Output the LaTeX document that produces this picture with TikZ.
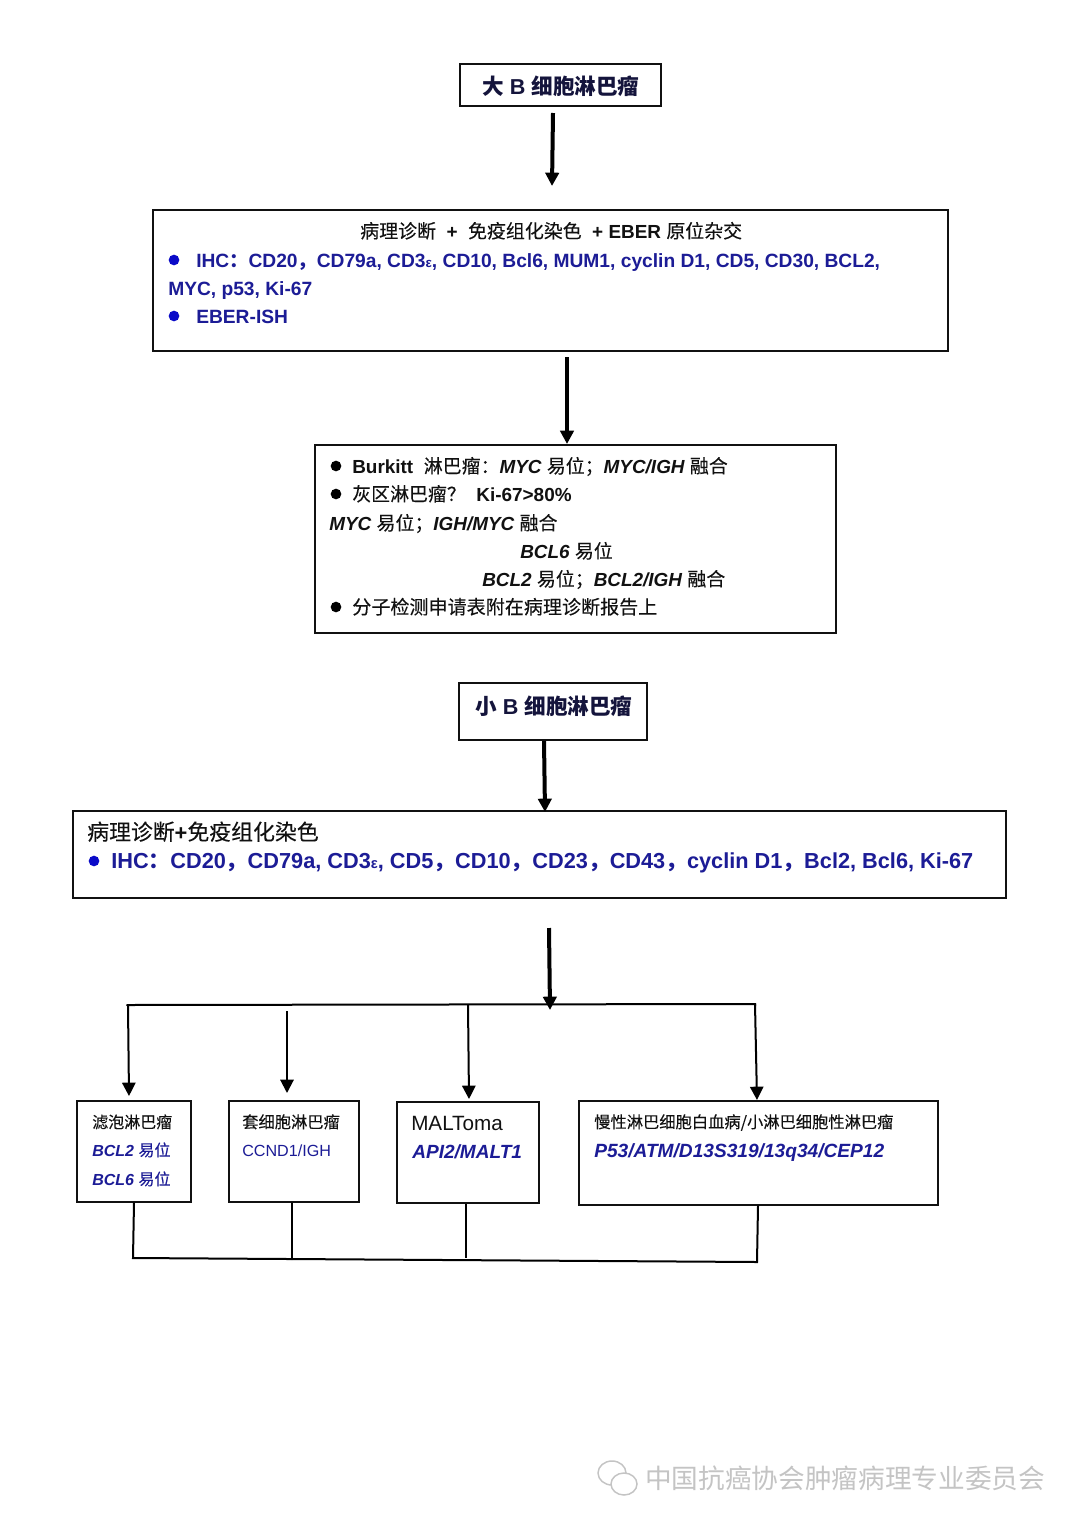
\documentclass[tikz,border=0pt]{standalone}
\usepackage{fontspec}
\usetikzlibrary{arrows.meta,calc}
\setmainfont{Liberation Sans}
\newfontfamily\cn{Noto Sans CJK SC}
\newfontfamily\cnmf[FakeBold=0.12]{Noto Sans CJK SC}
\newcommand{\cnm}{\cnmf\mdseries}
\definecolor{navyink}{HTML}{1C1C96}
\definecolor{dotblue}{HTML}{0A0AC8}
\definecolor{inkblack}{HTML}{111111}
\definecolor{titleink}{HTML}{14143C}
\definecolor{wmark}{HTML}{C4C4C4}
\newcommand{\fs}[1]{\fontsize{#1}{#1}\selectfont}
\tikzset{
  x=0.75pt,y=-0.75pt,
  boxa/.style={draw=inkblack,line width=1.5pt,fill=white,inner sep=0pt},
  tx/.style={anchor=base west,inner sep=0pt,text=inkblack,font=\bfseries\fs{#1}},
  ti/.style={anchor=base west,inner sep=0pt,text=titleink,font=\bfseries\fs{#1}},
  bl/.style={anchor=base west,inner sep=0pt,text=navyink,font=\bfseries\fs{#1}},
  dotb/.style={circle,fill=dotblue,inner sep=0pt,minimum size=8pt},
  dotk/.style={circle,fill=black,inner sep=0pt,minimum size=8pt},
  heavy/.style={line width=3pt,draw=black,-{Triangle[length=10pt,width=10pt]}},
  thinar/.style={line width=1.5pt,draw=black,-{Triangle[length=10pt,width=10pt]}},
  busl/.style={line width=1.5pt,draw=black,line cap=round},
}
\begin{document}
\begin{tikzpicture}
\useasboundingbox (0,0) rectangle (1080,1527);
\fill[white] (0,0) rectangle (1080,1527);
% boxes
\node[boxa,minimum width=150.75pt,minimum height=31.5pt] (top1) at (560.5,85) {};
\node[boxa,minimum width=596.25pt,minimum height=105.75pt] (diag1) at (550.5,280.5) {};
\node[boxa,minimum width=390.75pt,minimum height=141pt] (res1) at (575.5,539) {};
\node[boxa,minimum width=141pt,minimum height=42.75pt] (top2) at (553,711.5) {};
\node[boxa,minimum width=699.75pt,minimum height=65.25pt] (diag2) at (539.5,854.5) {};
\node[boxa,minimum width=85.5pt,minimum height=75.75pt] (fl) at (134,1151.5) {};
\node[boxa,minimum width=97.5pt,minimum height=75.75pt] (mcl) at (294,1151.5) {};
\node[boxa,minimum width=106.5pt,minimum height=75.75pt] (malt) at (468,1152.5) {};
\node[boxa,minimum width=269.25pt,minimum height=78pt] (cll) at (758.5,1153) {};
% texts
\node[ti=16.2] (t1) at (482,94) {{\cn 大} B {\cn 细胞淋巴瘤}};
\node[tx=14.2] (t2) at (360,238) {{\cnm 病理诊断}\ \ +\ \ {\cnm 免疫组化染色}\ \ + EBER {\cnm 原位杂交}};
\node[dotb] (d1) at (174,260) {};
\node[bl=14.4] (t3) at (196,267) {IHC{\cn：}CD20{\cn，}CD79a, CD3{\fs{10}ε}, CD10, Bcl6, MUM1, cyclin D1, CD5, CD30, BCL2,};
\node[bl=14.4] (t4) at (168,295) {MYC, p53, Ki-67};
\node[dotb] (d2) at (174,316) {};
\node[bl=14.4] (t5) at (196,323) {EBER-ISH};
\node[dotk] (d3) at (336,466) {};
\node[tx=14.2] (t6) at (352,473) {Burkitt\ \ {\cnm 淋巴瘤：}{\itshape MYC} {\cnm 易位；}{\itshape MYC/IGH} {\cnm 融合}};
\node[dotk] (d4) at (336,494) {};
\node[tx=14.2] (t7) at (352,501) {{\cnm 灰区淋巴瘤？}\ \ Ki-67>80\%};
\node[tx=14.2] (t8) at (329,530) {{\itshape MYC} {\cnm 易位；}{\itshape IGH/MYC} {\cnm 融合}};
\node[tx=14.2] (t9) at (520,558) {{\itshape BCL6} {\cnm 易位}};
\node[tx=14.2] (t10) at (482,586) {{\itshape BCL2} {\cnm 易位；}{\itshape BCL2/IGH} {\cnm 融合}};
\node[dotk] (d5) at (336,607) {};
\node[tx=14.3] (t11) at (352,614) {{\cnm 分子检测申请表附在病理诊断报告上}};
\node[ti=16.2] (t12) at (475,714) {{\cn 小} B {\cn 细胞淋巴瘤}};
\node[tx=16.4] (t13) at (87,840) {{\cnm 病理诊断}+{\cnm 免疫组化染色}};
\node[dotb] (d6) at (94,861) {};
\node[bl=16.3] (t14) at (111,868) {IHC{\cn：}CD20{\cn，}CD79a, CD3{\fs{11}ε}, CD5{\cn，}CD10{\cn，}CD23{\cn，}CD43{\cn，}cyclin D1{\cn，}Bcl2, Bcl6, Ki-67};
\node[tx=12] (t15) at (92,1128) {{\cnm 滤泡淋巴瘤}};
\node[bl=12] (t16) at (92,1156) {{\itshape BCL2} {\cnm 易位}};
\node[bl=12] (t17) at (92,1185) {{\itshape BCL6} {\cnm 易位}};
\node[tx=12.2] (t18) at (242,1128) {{\cnm 套细胞淋巴瘤}};
\node[bl=12.1] (t19) at (242,1156) {\mdseries CCND1/IGH};
\node[tx=15.5] (t20) at (411,1130) {\mdseries MALToma};
\node[bl=14.3] (t21) at (412,1158) {\itshape API2/MALT1};
\node[tx=12.2] (t22) at (594,1128) {{\cnm 慢性淋巴细胞白血病/小淋巴细胞性淋巴瘤}};
\node[bl=14.35] (t23) at (594,1157) {\itshape P53/ATM/D13S319/13q34/CEP12};
\node[anchor=base west,inner sep=0pt,text=wmark,font=\fs{20}] (wm) at (645,1488) {{\cn 中国抗癌协会肿瘤病理专业委员会}};
% watermark icon
\draw[wmark,line width=1.1pt] (612,1473) ellipse [x radius=14,y radius=12];
\draw[wmark,line width=1.1pt,fill=white] (624,1484) ellipse [x radius=13,y radius=11];
% free ends
\coordinate (bL) at (127,1005);
\coordinate (bR) at (755,1004);
\coordinate (bJ) at (550,1010);
\coordinate (b2) at (287,1011);
\coordinate (b3) at (468,1005);
\coordinate (lL) at (133,1258);
\coordinate (lR) at (757,1262);
\coordinate (l2) at (292,1259);
\coordinate (l3) at (466,1258);
% connectors
\draw[heavy] ($(top1.south)+(-7.5,6)$) -- ($(diag1.north)+(1.5,-23)$);
\draw[heavy] ($(diag1.south)+(16.5,5)$) -- ($(res1.north)+(-8.5,0)$);
\draw[heavy] ($(top2.south)+(-9,0)$) -- ($(diag2.north)+(5.5,2)$);
\draw[heavy] ($(diag2.south)+(9.5,29)$) -- (bJ);
\draw[busl] (bL) -- (bR) -- ++(0,2);
\draw[thinar] (bL) ++(1,1) -- ($(fl.north)+(-5,-4)$);
\draw[thinar] (b2) -- ($(mcl.north)+(-7,-7)$);
\draw[thinar] (b3) -- ($(malt.north)+(1,-2)$);
\draw[thinar] (bR) -- ($(cll.north)+(-1.5,0)$);
\draw[busl] (fl.south) -- (lL) -- (lR) -- ($(cll.south)+(-0.5,0)$);
\draw[busl] ($(mcl.south)+(-2,0)$) -- (l2);
\draw[line width=1.1pt,draw=black] ($(malt.south)+(-2,0)$) -- (l3);
\end{tikzpicture}
\end{document}
